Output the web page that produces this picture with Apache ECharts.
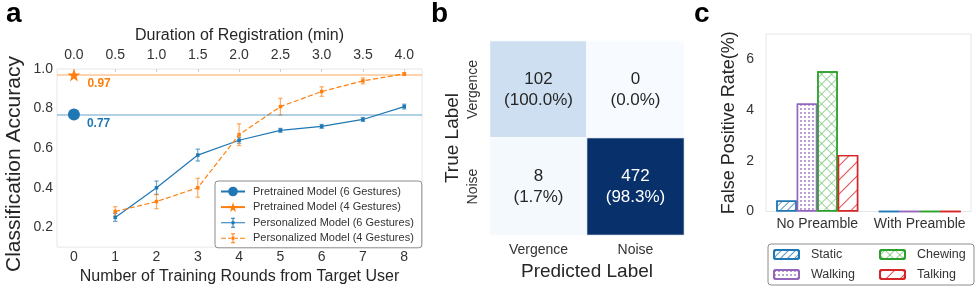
<!DOCTYPE html>
<html>
<head>
<meta charset="utf-8">
<script src="https://cdn.jsdelivr.net/npm/echarts@6/dist/echarts.min.js"></script>
<style>
  html, body { margin: 0; padding: 0; background: #fff; }
  #chart { width: 976px; height: 290px; }
</style>
</head>
<body>
<div id="chart"></div>
<script>
// ---------- Data (panel a) ----------
const rounds = [1, 2, 3, 4, 5, 6, 7, 8];
const roundTicks = [0, 1, 2, 3, 4, 5, 6, 7, 8];
const durationTicks = [0, 0.5, 1.0, 1.5, 2.0, 2.5, 3.0, 3.5, 4.0];
const accuracyTicks = [0.2, 0.4, 0.6, 0.8, 1.0];
const pretrained6 = 0.77;
const pretrained4 = 0.97;
const personal6 = [0.25, 0.40, 0.565, 0.64, 0.69, 0.71, 0.745, 0.81];
const personal6Err = [0.02, 0.034, 0.03, 0.015, 0.01, 0.01, 0.01, 0.012];
const personal4 = [0.28, 0.33, 0.40, 0.668, 0.81, 0.886, 0.94, 0.975];
const personal4Err = [0.024, 0.036, 0.048, 0.055, 0.042, 0.024, 0.015, 0.007];

// ---------- Data (panel b) ----------
const cmLabels = ['Vergence', 'Noise'];
const cmCounts = [[102, 0], [8, 472]];
const cmPercents = [[100.0, 0.0], [1.7, 98.3]];

// ---------- Data (panel c) ----------
const fprGroups = ['No Preamble', 'With Preamble'];
const fprTicks = [0, 2, 4, 6];
const fprStatic = [0.43, 0];
const fprWalking = [4.26, 0];
const fprChewing = [5.53, 0];
const fprTalking = [2.23, 0];

// ---------- Styles ----------
const FONT = 'Liberation Sans, Arial, Helvetica, sans-serif';
const TXT = '#262626';
const BLUE = '#1f77b4', ORANGE = '#ff7f0e', GREEN = '#2ca02c', RED = '#d62728', PURPLE = '#9467bd';
const STAR = 'path://M50,0 L61.8,35.1 L98.1,35.1 L68.8,56.8 L79.4,91 L50,70.4 L20.6,91 L31.2,56.8 L1.9,35.1 L38.2,35.1 Z';
const ERR_SOLID = 'path://M0,5.5H24V6.5H0Z M11.5,1H12.5V11H11.5Z M10,1H14V2H10Z M10,10H14V11H10Z M10.5,4.5H13.5V7.5H10.5Z';
const ERR_DASH = 'path://M0,5.5H5V6.5H0Z M7,5.5H10V6.5H7Z M14,5.5H17V6.5H14Z M19,5.5H24V6.5H19Z M11.5,1H12.5V11H11.5Z M10,1H14V2H10Z M10,10H14V11H10Z M10.5,4.5H13.5V7.5H10.5Z';
const CROSS = 'path://M0,4.6H10V5.4H0Z M4.6,0H5.4V10H4.6Z';

function errData(xs, ys, es) { return xs.map((x, i) => [x, ys[i], es[i]]); }
function errRenderer(color) {
  return function (params, api) {
    const x = api.value(0), y = api.value(1), e = api.value(2);
    const t = api.coord([x, y + e]), b = api.coord([x, y - e]);
    const cap = 2.2;
    const st = { stroke: color, lineWidth: 1.2, opacity: 0.65 };
    return { type: 'group', children: [
      { type: 'line', shape: { x1: t[0], y1: t[1], x2: b[0], y2: b[1] }, style: st },
      { type: 'line', shape: { x1: t[0] - cap, y1: t[1], x2: t[0] + cap, y2: t[1] }, style: st },
      { type: 'line', shape: { x1: b[0] - cap, y1: b[1], x2: b[0] + cap, y2: b[1] }, style: st }
    ]};
  };
}

const maxCount = Math.max(...cmCounts.flat());
const heatData = [];
cmCounts.forEach((row, r) => row.forEach((v, c) => {
  heatData.push({ value: [c, r, v], pct: cmPercents[r][c],
    label: { color: v > maxCount / 2 ? '#ffffff' : TXT } });
}));

const barStyle = (color, decal) => ({
  type: 'bar', xAxisIndex: 3, yAxisIndex: 2, barGap: '0%', barCategoryGap: '20%',
  itemStyle: { color: '#ffffff', borderColor: color, borderWidth: 1.4, decal: decal }
});

const chart = echarts.init(document.getElementById('chart'), null, { renderer: 'canvas' });
chart.setOption({
  animation: false,
  textStyle: { fontFamily: FONT, color: TXT },
  title: [
    { text: 'a', left: 6, top: 0, padding: 0, textStyle: { fontSize: 28, fontWeight: 'bold', color: '#000', fontFamily: FONT } },
    { text: 'b', left: 431, top: 0, padding: 0, textStyle: { fontSize: 28, fontWeight: 'bold', color: '#000', fontFamily: FONT } },
    { text: 'c', left: 694, top: 0, padding: 0, textStyle: { fontSize: 28, fontWeight: 'bold', color: '#000', fontFamily: FONT } }
  ],
  grid: [
    { left: 57, top: 69, width: 365, height: 185, show: true, borderColor: '#e6e6e6', borderWidth: 1, containLabel: false },
    { left: 490, top: 41, width: 194, height: 194, containLabel: false },
    { left: 766, top: 34, width: 205, height: 177.5, show: true, borderColor: '#e6e6e6', borderWidth: 1, containLabel: false }
  ],
  xAxis: [
    { gridIndex: 0, type: 'value', position: 'bottom', min: -0.41, max: 8.43,
      axisLine: { show: false }, axisTick: { show: false }, splitLine: { show: false },
      axisLabel: { customValues: roundTicks, fontSize: 14, color: '#333', margin: 3, fontFamily: FONT },
      name: 'Number of Training Rounds from Target User', nameLocation: 'middle', nameGap: 17,
      nameTextStyle: { fontSize: 16, color: TXT, fontFamily: FONT } },
    { gridIndex: 0, type: 'value', position: 'top', min: -0.205, max: 4.215,
      axisLine: { show: false }, splitLine: { show: false },
      axisTick: { show: true, customValues: durationTicks, inside: true, length: 3, lineStyle: { color: '#d0d0d0' } },
      axisLabel: { customValues: durationTicks, formatter: v => v.toFixed(1), fontSize: 14, color: '#333', margin: 7, fontFamily: FONT },
      name: 'Duration of Registration (min)', nameLocation: 'middle', nameGap: 23,
      nameTextStyle: { fontSize: 16, color: TXT, fontFamily: FONT } },
    { gridIndex: 1, type: 'category', data: cmLabels, position: 'bottom',
      axisLine: { show: false }, axisTick: { show: false }, splitLine: { show: false },
      axisLabel: { fontSize: 14, color: '#333', margin: 8, fontFamily: FONT },
      name: 'Predicted Label', nameLocation: 'middle', nameGap: 24,
      nameTextStyle: { fontSize: 19, color: TXT, fontFamily: FONT } },
    { gridIndex: 2, type: 'category', data: fprGroups, position: 'bottom',
      axisLine: { show: false }, axisTick: { show: false }, splitLine: { show: false },
      axisLabel: { interval: 0, hideOverlap: false, fontSize: 14, color: '#333', margin: 6, fontFamily: FONT } }
  ],
  yAxis: [
    { gridIndex: 0, type: 'value', min: 0.1, max: 1.0,
      axisLine: { show: false }, axisTick: { show: false }, splitLine: { show: false },
      axisLabel: { customValues: accuracyTicks, formatter: v => v.toFixed(1), fontSize: 14, color: '#333', margin: 4, fontFamily: FONT },
      name: 'Classification Accuracy', nameLocation: 'middle', nameGap: 32, nameRotate: 90,
      nameTextStyle: { fontSize: 21, color: TXT, fontFamily: FONT, padding: [0, 12, 0, 0] } },
    { gridIndex: 1, type: 'category', data: cmLabels, inverse: true,
      axisLine: { show: false }, axisTick: { show: false }, splitLine: { show: false },
      axisLabel: { rotate: 90, fontSize: 14, color: '#333', margin: 10, fontFamily: FONT },
      name: 'True Label', nameLocation: 'middle', nameGap: 28, nameRotate: 90,
      nameTextStyle: { fontSize: 19, color: TXT, fontFamily: FONT } },
    { gridIndex: 2, type: 'value', min: 0, max: 7,
      axisLine: { show: false }, axisTick: { show: false }, splitLine: { show: false },
      axisLabel: { customValues: fprTicks, fontSize: 14, color: '#333', margin: 12, fontFamily: FONT },
      name: 'False Positive Rate(%)', nameLocation: 'middle', nameGap: 28, nameRotate: 90,
      nameTextStyle: { fontSize: 18, color: TXT, fontFamily: FONT } }
  ],
  visualMap: {
    show: false, type: 'continuous', seriesIndex: 6, min: 0, max: maxCount, dimension: 2,
    inRange: { color: ['#f7fbff', '#deebf7', '#c6dbef', '#9ecae1', '#6baed6', '#4292c6', '#2171b5', '#08519c', '#08306b'] }
  },
  legend: [
    { left: 215, top: 181, orient: 'vertical', itemWidth: 24, itemHeight: 12, itemGap: 4.6,
      padding: [5, 8, 4, 5], borderColor: '#8c8c8c', borderWidth: 1, borderRadius: 3, backgroundColor: '#fff',
      textStyle: { fontSize: 11, color: '#333', fontFamily: FONT, padding: [0, 0, 0, 3] },
      data: [
        { name: 'Pretrained Model (6 Gestures)' },
        { name: 'Pretrained Model (4 Gestures)' },
        { name: 'Personalized Model (6 Gestures)', icon: ERR_SOLID },
        { name: 'Personalized Model (4 Gestures)', icon: ERR_DASH }
      ] },
    { left: 768, top: 244, orient: 'vertical', itemWidth: 25, itemHeight: 9, itemGap: 7,
      padding: [4, 119, 4, 5], borderColor: '#8c8c8c', borderWidth: 1, borderRadius: 3,
      textStyle: { fontSize: 12.5, color: '#333', fontFamily: FONT, padding: [0, 0, 0, 7] },
      data: ['Static', 'Walking'] },
    { left: 874, top: 244, orient: 'vertical', itemWidth: 25, itemHeight: 9, itemGap: 7,
      padding: [4, 5, 4, 5],
      textStyle: { fontSize: 12.5, color: '#333', fontFamily: FONT, padding: [0, 0, 0, 7] },
      data: ['Chewing', 'Talking'] }
  ],
  series: [
    { name: 'Pretrained Model (6 Gestures)', type: 'line', xAxisIndex: 0, yAxisIndex: 0,
      data: [[0, pretrained6]], symbol: 'circle', symbolSize: 12, color: BLUE,
      lineStyle: { color: BLUE, width: 1.2 },
      label: { show: true, position: 'right', distance: 7, offset: [0, 9], formatter: p => p.value[1].toFixed(2),
        color: BLUE, fontWeight: 'bold', fontSize: 12, fontFamily: FONT },
      markLine: { silent: true, symbol: 'none', label: { show: false }, data: [{ yAxis: pretrained6 }],
        lineStyle: { color: BLUE, width: 1.6, type: 'solid', opacity: 0.45 } } },
    { name: 'Pretrained Model (4 Gestures)', type: 'line', xAxisIndex: 0, yAxisIndex: 0,
      data: [[0, pretrained4]], symbol: STAR, symbolSize: 13, color: ORANGE,
      lineStyle: { color: ORANGE, width: 1.2 },
      label: { show: true, position: 'right', distance: 7, offset: [0, 9], formatter: p => p.value[1].toFixed(2),
        color: ORANGE, fontWeight: 'bold', fontSize: 12, fontFamily: FONT },
      markLine: { silent: true, symbol: 'none', label: { show: false }, data: [{ yAxis: pretrained4 }],
        lineStyle: { color: ORANGE, width: 1.6, type: 'solid', opacity: 0.45 } } },
    { name: 'Personalized Model (6 Gestures)', type: 'line', xAxisIndex: 0, yAxisIndex: 0,
      data: rounds.map((r, i) => [r, personal6[i]]), symbol: 'rect', symbolSize: 3.5, color: BLUE,
      lineStyle: { color: BLUE, width: 1.2 }, z: 3 },
    { name: 'Personalized Model (4 Gestures)', type: 'line', xAxisIndex: 0, yAxisIndex: 0,
      data: rounds.map((r, i) => [r, personal4[i]]), symbol: 'rect', symbolSize: 3.5, color: ORANGE,
      lineStyle: { color: ORANGE, width: 1.2, type: [5, 2.5] }, z: 3 },
    { type: 'custom', xAxisIndex: 0, yAxisIndex: 0, renderItem: errRenderer(BLUE),
      data: errData(rounds, personal6, personal6Err), z: 2, silent: true },
    { type: 'custom', xAxisIndex: 0, yAxisIndex: 0, renderItem: errRenderer(ORANGE),
      data: errData(rounds, personal4, personal4Err), z: 2, silent: true },
    { type: 'heatmap', xAxisIndex: 2, yAxisIndex: 1, data: heatData,
      itemStyle: { borderColor: '#ffffff', borderWidth: 1 },
      label: { show: true, fontSize: 17, lineHeight: 21, fontFamily: FONT,
        formatter: p => p.data.value[2] + '\n(' + p.data.pct.toFixed(1) + '%)' } },
    Object.assign(barStyle(BLUE, { color: 'rgba(31,119,180,0.75)', symbol: 'rect', dashArrayX: [1, 0], dashArrayY: [1, 4], rotation: -Math.PI / 4 }),
      { name: 'Static', data: fprStatic }),
    Object.assign(barStyle(PURPLE, { color: 'rgba(148,103,189,0.85)', symbol: 'circle', symbolSize: 1, dashArrayX: [1.4, 1.4], dashArrayY: [1.4, 1.4] }),
      { name: 'Walking', data: fprWalking }),
    Object.assign(barStyle(GREEN, { color: 'rgba(44,160,44,0.85)', symbol: CROSS, symbolSize: 1, dashArrayX: [7, 0], dashArrayY: [7, 0], rotation: Math.PI / 4 }),
      { name: 'Chewing', data: fprChewing }),
    Object.assign(barStyle(RED, { color: 'rgba(214,39,40,0.8)', symbol: 'rect', dashArrayX: [1, 0], dashArrayY: [1, 9], rotation: -Math.PI / 4 }),
      { name: 'Talking', data: fprTalking })
  ]
});
</script>
</body>
</html>
